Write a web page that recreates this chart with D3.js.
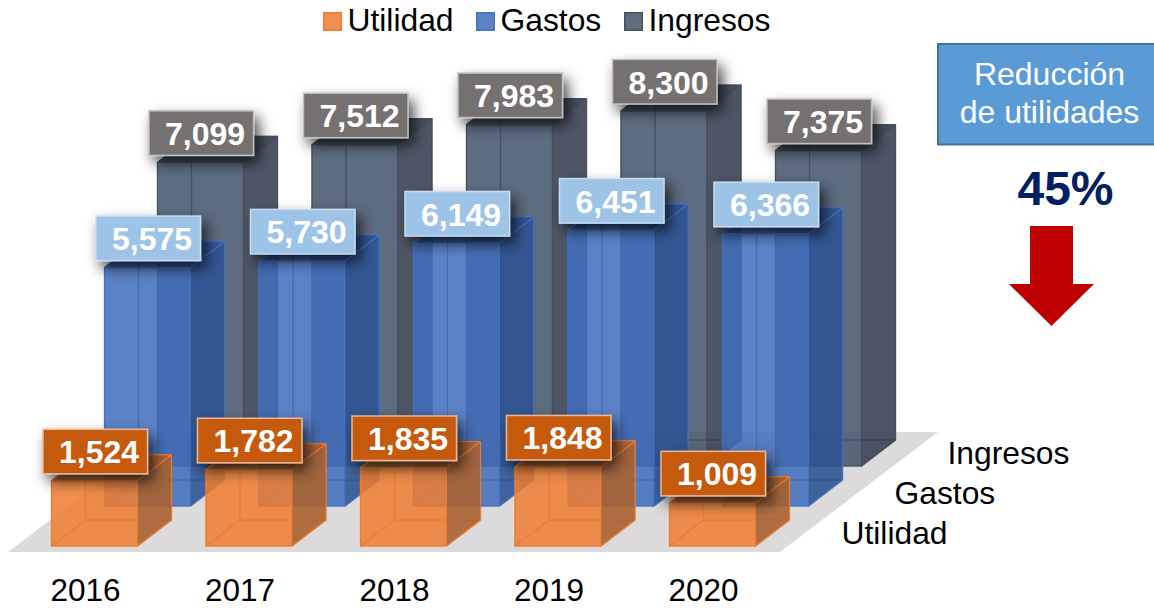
<!DOCTYPE html>
<html>
<head>
<meta charset="utf-8">
<script src="https://cdn.jsdelivr.net/npm/d3@7"></script>
<style>
  html, body { margin: 0; padding: 0; background: #fff; }
  svg { display: block; }
  text { font-family: "Liberation Sans", Arial, sans-serif; }
</style>
</head>
<body>
<main></main>
<script>
const years = ['2016', '2017', '2018', '2019', '2020'];
const seriesNames = ['Utilidad', 'Gastos', 'Ingresos'];
const utilidad = [1524, 1782, 1835, 1848, 1009];
const gastos = [5575, 5730, 6149, 6451, 6366];
const ingresos = [7099, 7512, 7983, 8300, 7375];
const values = [utilidad, gastos, ingresos];

const width = 1154, height = 608;
const boxW = 86, depthX = 34, depthY = -26;

// year -> left edge, series -> shift into the page, value -> height
const x = d3.scalePoint().domain(years).range([51.5, 669.5]);
const zx = d3.scalePoint().domain(seriesNames).range([0, 106]);
const zy = d3.scalePoint().domain(seriesNames).range([546, 466]);
const h = d3.scaleLinear().domain([0, 8300]).range([0, 355]);

const colors = {
  Utilidad: {edge: '#ed7d31', front: '#ed7d31', side: '#a5602f', back: '#ed7d31', label: '#c55a11', border: '#e8b89a', text: '#fff'},
  Gastos: {edge: '#4472c4', front: '#3f6cba', side: '#2c5190', back: '#5b86d2', label: '#9dc3e6', border: '#c9dcf0', text: '#fff'},
  Ingresos: {edge: '#4a4f58', front: '#44546a', side: '#384253', back: '#44546a', label: '#767171', border: '#c2bfbf', text: '#fff'}
};

const svg = d3.select('main').append('svg')
    .attr('width', width)
    .attr('height', height);

const defs = svg.append('defs');
const shadow = defs.append('filter')
    .attr('id', 'shadow')
    .attr('x', '-20%').attr('y', '-30%')
    .attr('width', '150%').attr('height', '180%');
shadow.append('feDropShadow')
    .attr('dx', 5).attr('dy', 7)
    .attr('stdDeviation', 7)
    .attr('flood-color', '#000')
    .attr('flood-opacity', 0.7);

const poly = pts => pts.map(p => p.join(',')).join(' ');

// floor
const floorFront = zy('Utilidad') + 6, floorBack = zy('Ingresos') - 34;
svg.append('polygon')
    .attr('points', poly([[8, floorFront], [780, floorFront], [938, floorBack], [166, floorBack]]))
    .attr('fill', '#dcdadb');

// back series first so the front ones sit over them
[...seriesNames].reverse().forEach(name => {
  const i = seriesNames.indexOf(name), c = colors[name];
  const g = svg.append('g').attr('class', 'series');

  years.forEach((year, j) => {
    const x0 = x(year) + zx(name), x1 = x0 + boxW;
    const y0 = zy(name), y1 = y0 - h(values[i][j]);
    const bx = g.append('g')
        .attr('stroke', c.edge)
        .attr('stroke-opacity', 0.85)
        .attr('stroke-width', 1.2)
        .attr('stroke-linejoin', 'round');

    const face = (pts, fill, op) => bx.append('polygon')
        .attr('points', poly(pts))
        .attr('fill', fill)
        .attr('fill-opacity', op);

    // back, left, floor of the box
    face([[x0 + depthX, y0 + depthY], [x1 + depthX, y0 + depthY], [x1 + depthX, y1 + depthY], [x0 + depthX, y1 + depthY]], c.back, 0.3);
    face([[x0, y0], [x0 + depthX, y0 + depthY], [x0 + depthX, y1 + depthY], [x0, y1]], c.back, 0.3);
    face([[x0, y0], [x1, y0], [x1 + depthX, y0 + depthY], [x0 + depthX, y0 + depthY]], c.back, 0.3);
    // front, side, top
    face([[x0, y0], [x1, y0], [x1, y1], [x0, y1]], c.front, 0.8);
    face([[x1, y0], [x1 + depthX, y0 + depthY], [x1 + depthX, y1 + depthY], [x1, y1]], c.side, 0.85);
    face([[x0, y1], [x1, y1], [x1 + depthX, y1 + depthY], [x0 + depthX, y1 + depthY]], c.side, 0.9);
  });

  // value labels
  years.forEach((year, j) => {
    const x0 = x(year) + zx(name);
    const y1 = zy(name) - h(values[i][j]);
    g.append('rect')
        .attr('x', x0 - 8.5)
        .attr('y', y1 - 51.5)
        .attr('width', 104.5)
        .attr('height', 44.5)
        .attr('fill', c.label)
        .attr('stroke', c.border)
        .attr('stroke-width', 1.5)
        .attr('filter', 'url(#shadow)');
    g.append('text')
        .attr('x', x0 + 47.5)
        .attr('y', y1 - 17.5)
        .attr('text-anchor', 'middle')
        .attr('font-size', 32)
        .attr('font-weight', 'bold')
        .attr('fill', c.text)
        .text(d3.format(',')(values[i][j]));
  });
});

// year labels
svg.selectAll('.year')
    .data(years)
  .enter().append('text')
    .attr('class', 'year')
    .attr('x', d => x(d) - 1)
    .attr('y', 601)
    .attr('font-size', 31.5)
    .attr('fill', '#000')
    .text(d => d);

// series labels along the floor
svg.selectAll('.depth')
    .data(seriesNames)
  .enter().append('text')
    .attr('class', 'depth')
    .attr('x', d => 841.5 + zx(d))
    .attr('y', d => zy(d) - 2)
    .attr('font-size', 31.8)
    .attr('fill', '#000')
    .text(d => d);

// legend
const legendX = {Utilidad: 323, Gastos: 476, Ingresos: 624};
const legend = svg.selectAll('.legend')
    .data(seriesNames)
  .enter().append('g')
    .attr('class', 'legend')
    .attr('transform', d => `translate(${legendX[d]}, 0)`);

legend.append('rect')
    .attr('x', 0.75).attr('y', 12.75)
    .attr('width', 17.5).attr('height', 17.5)
    .attr('fill', d => colors[d].front)
    .attr('fill-opacity', 0.85)
    .attr('stroke', d => colors[d].edge)
    .attr('stroke-width', 1.5);

legend.append('text')
    .attr('x', 24.5)
    .attr('y', 31)
    .attr('font-size', 31.8)
    .attr('fill', '#000')
    .text(d => d);

// callout
svg.append('rect')
    .attr('x', 938).attr('y', 44)
    .attr('width', 220).attr('height', 100.5)
    .attr('fill', '#5b9bd5')
    .attr('stroke', '#41719c')
    .attr('stroke-width', 2);

svg.selectAll('.callout')
    .data(['Reducción', 'de utilidades'])
  .enter().append('text')
    .attr('class', 'callout')
    .attr('x', 1049.5)
    .attr('y', (d, i) => 85 + i * 38)
    .attr('text-anchor', 'middle')
    .attr('font-size', 32)
    .attr('fill', '#fff')
    .text(d => d);

svg.append('text')
    .attr('x', 1065.5)
    .attr('y', 205)
    .attr('text-anchor', 'middle')
    .attr('font-size', 48)
    .attr('font-weight', 'bold')
    .attr('fill', '#002060')
    .text('45%');

svg.append('polygon')
    .attr('points', poly([[1030, 226], [1073, 226], [1073, 284], [1094, 284], [1051.5, 326], [1009, 284], [1030, 284]]))
    .attr('fill', '#c00000');
</script>
</body>
</html>
